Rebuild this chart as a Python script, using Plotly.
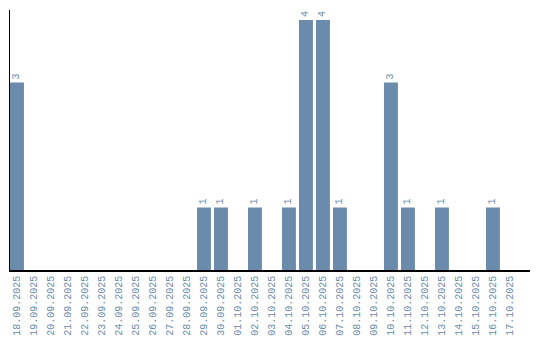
import plotly.graph_objects as go

dates = ["18.09.2025","19.09.2025","20.09.2025","21.09.2025","22.09.2025","23.09.2025",
         "24.09.2025","25.09.2025","26.09.2025","27.09.2025","28.09.2025","29.09.2025",
         "30.09.2025","01.10.2025","02.10.2025","03.10.2025","04.10.2025","05.10.2025",
         "06.10.2025","07.10.2025","08.10.2025","09.10.2025","10.10.2025","11.10.2025",
         "12.10.2025","13.10.2025","14.10.2025","15.10.2025","16.10.2025","17.10.2025"]
counts = [3,0,0,0,0,0,0,0,0,0,0,1,1,0,1,0,1,4,4,1,0,0,3,1,0,1,0,0,1,0]

labels = [str(c) if c > 0 else "" for c in counts]
color = "#6a8bab"

fig = go.Figure(go.Bar(
    x=dates, y=counts, marker=dict(color=color, line=dict(width=0)),
    text=labels, textposition="outside", textangle=-90,
    textfont=dict(family="Liberation Mono", size=10, color=color),
    cliponaxis=False,
))
fig.update_layout(
    width=540, height=340, margin=dict(l=10, r=10, t=10, b=70),
    plot_bgcolor="white", paper_bgcolor="white", bargap=0.18,
    showlegend=False,
    xaxis=dict(type="category", showline=True, linecolor="black", linewidth=1.5,
               showgrid=False, ticks="", tickangle=-90, automargin=False,
               range=[-0.41, 30.18],
               tickfont=dict(family="Liberation Mono", size=10, color=color)),
    yaxis=dict(range=[0, 4.16], showline=True, linecolor="black", linewidth=1,
               showgrid=False, showticklabels=False, ticks="", zeroline=False,
               automargin=False),
)
fig.write_html("out.html")
